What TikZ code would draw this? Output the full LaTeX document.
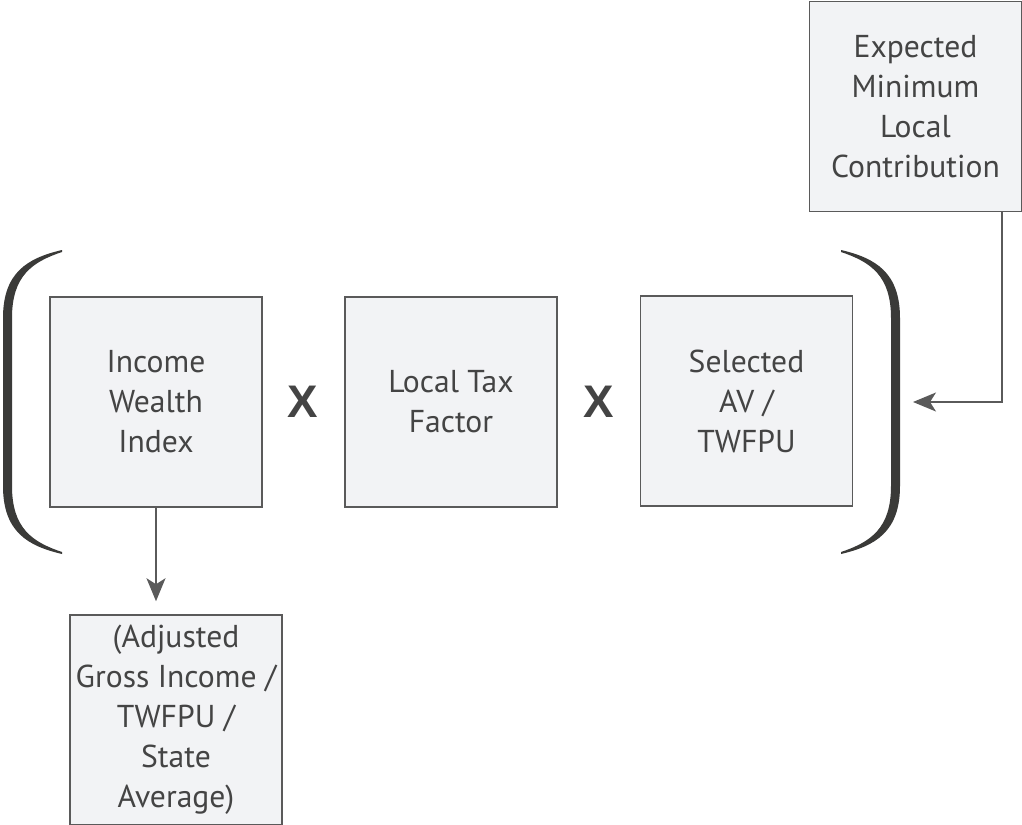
\documentclass[tikz,border=0pt]{standalone}
\usepackage{fontspec}
\setmainfont{PT Sans}
\newfontfamily\xfont{Liberation Sans}
\usetikzlibrary{arrows.meta}
\usepackage{xcolor}
\definecolor{boxfill}{HTML}{F2F3F5}
\definecolor{boxline}{HTML}{5A5A5A}
\definecolor{ink}{HTML}{444444}
\definecolor{brk}{HTML}{3A3A38}

\begin{document}
\begin{tikzpicture}[
x=0.02cm, y=-0.02cm,
box/.style = {rectangle, draw=boxline, fill=boxfill, line width=0.9pt,
            minimum width=4.24cm, minimum height=4.2cm,
            inner sep=0pt, align=center, text=ink,
            font=\fontsize{18}{22.8}\selectfont},
times/.style = {text=ink, font=\fontsize{26}{30}\selectfont\xfont\bfseries},
link/.style = {draw=boxline, line width=0.9pt,
            -{Stealth[length=0.46cm, width=0.38cm, inset=0.12cm]}}
                ]
    \useasboundingbox (0,0) rectangle (1022,825);

    % boxes
    \node[box] at (915.5,106.5) (emlc) {Expected\\Minimum\\Local\\Contribution};
    \node[box] at (156,402) (iwi) {Income\\Wealth\\Index};
    \node[box] at (451,402) (ltf) {Local Tax\\Factor};
    \node[box] at (746.5,401) (sav) {Selected\\AV /\\TWFPU};
    \node[box] at (176,720) (agi) {(Adjusted\\Gross Income /\\TWFPU /\\State\\Average)};

    % multiply signs
    \foreach \x/\e in {303/xa, 599/xb}
        \node[times] at (\x,402) (\e) {X};

    % brackets
    \foreach \s/\o in {1/0, -1/903}{
    \begin{scope}[shift={(\o,0)}, xscale=\s]
        \fill[brk] (62,250) .. controls (28,258) and (3,272) .. (3,318)
            -- (3,486) .. controls (3,532) and (28,546) .. (62,554)
            -- (62,552) .. controls (32,542) and (12,528) .. (12,486)
            -- (12,318) .. controls (12,276) and (32,262) .. (62,252) -- cycle;
    \end{scope}
    }

    % connectors
    \coordinate (rb) at (913,402);
    \draw[link] ([xshift=-0.4cm]emlc.south east) |- (rb);
    \draw[link] (iwi.south) -- ([yshift=0.26cm]agi.north -| iwi.south);
\end{tikzpicture}
\end{document}
